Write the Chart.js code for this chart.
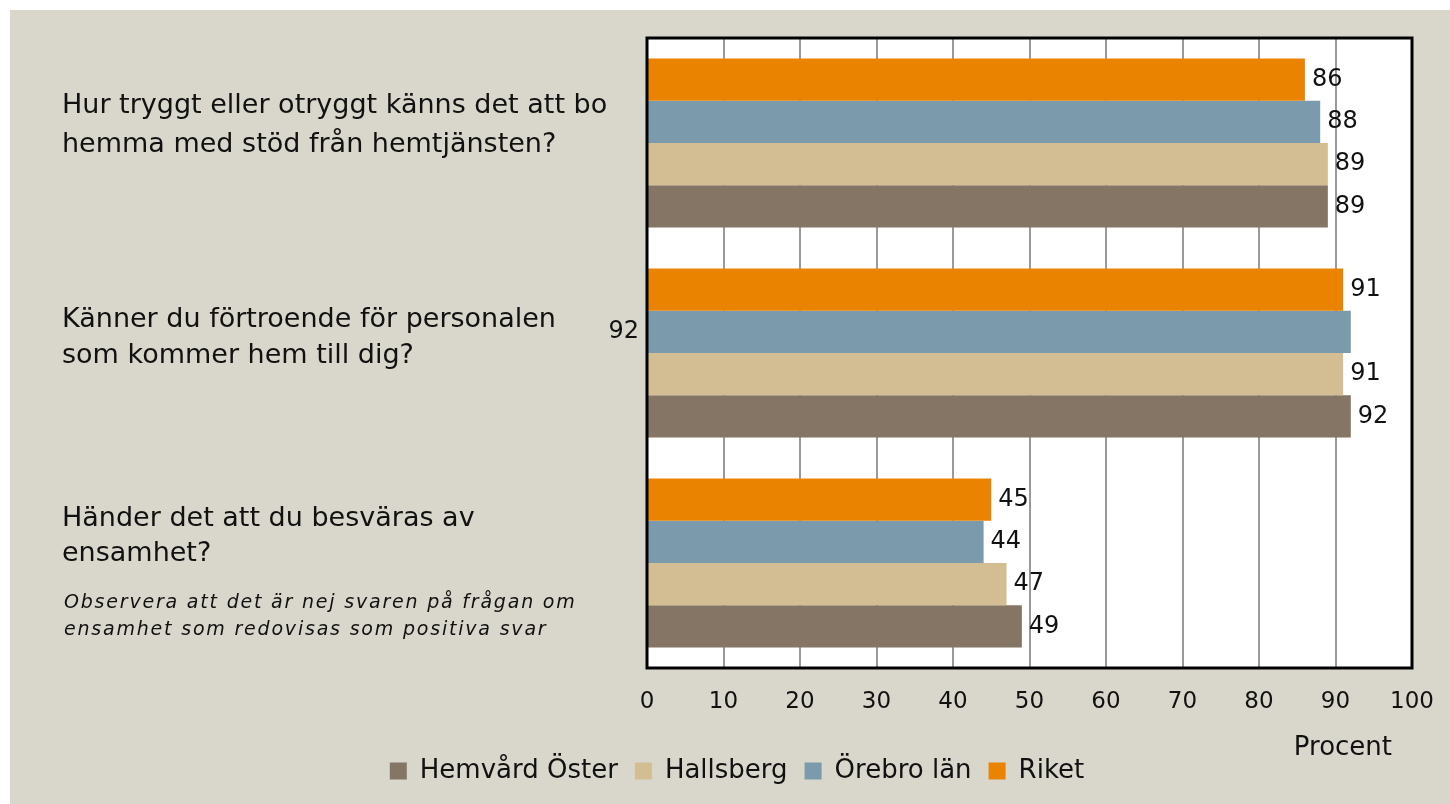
<!DOCTYPE html>
<html>
<head>
<meta charset="utf-8">
<script src="https://cdn.jsdelivr.net/npm/chart.js@4/dist/chart.umd.min.js"></script>
<style>
    html, body { margin: 0; padding: 0; background: #ffffff; }
    #wrap { width: 1450px; height: 804px; }
</style>
</head>
<body>
<div id="wrap"><canvas id="trygghetChart" width="1450" height="804"></canvas></div>
<script>
const categories = [
    ["Hur tryggt eller otryggt känns det att bo", "hemma med stöd från hemtjänsten?"],
    ["Känner du förtroende för personalen", "som kommer hem till dig?"],
    ["Händer det att du besväras av", "ensamhet?"]
];

const noteLines = [
    "Observera att det är nej svaren på frågan om",
    "ensamhet som redovisas som positiva svar"
];

const seriesNames = ["Riket", "Örebro län", "Hallsberg", "Hemvård Öster"];
const riket = [86, 91, 45];
const orebroLan = [88, 92, 44];
const hallsberg = [89, 91, 47];
const hemvardOster = [89, 92, 49];

const xTicks = [0, 10, 20, 30, 40, 50, 60, 70, 80, 90, 100];

const colors = ["#e98300", "#7b9aac", "#d3be94", "#857565"];
const FONT = "'DejaVu Sans', sans-serif";

// the label that sits left of the axis in the original
const leftLabel = { dataset: 1, index: 1 };

const canvas = document.getElementById("trygghetChart");

const backgroundPlugin = {
    id: "background",
    beforeDraw(chart) {
        const ctx = chart.ctx;
        const a = chart.chartArea;
        ctx.save();
        ctx.fillStyle = "#ffffff";
        ctx.fillRect(0, 0, chart.width, chart.height);
        ctx.fillStyle = "#d9d7cb";
        ctx.fillRect(10, 10, chart.width - 10, chart.height - 10);
        ctx.fillStyle = "#ffffff";
        ctx.fillRect(a.left, a.top, a.right - a.left, a.bottom - a.top);
        ctx.restore();
    },
    afterDraw(chart) {
        const ctx = chart.ctx;
        const a = chart.chartArea;
        const y = chart.scales.y;
        ctx.save();
        ctx.strokeStyle = "#000000";
        ctx.lineWidth = 3;
        ctx.strokeRect(a.left, a.top, a.right - a.left, a.bottom - a.top);

        // category labels
        ctx.fillStyle = "#111111";
        ctx.textAlign = "left";
        ctx.textBaseline = "middle";
        ctx.font = "27px " + FONT;
        const offsets = [[-37, 2], [-33, 3], [-44, -9]];
        categories.forEach((lines, i) => {
            const c = y.getPixelForValue(i);
            lines.forEach((t, j) => ctx.fillText(t, 62, c + offsets[i][j]));
        });
        ctx.font = "italic 19px " + FONT;
        ctx.letterSpacing = "1.8px";
        const c3 = y.getPixelForValue(2);
        ctx.fillText(noteLines[0], 64, c3 + 40);
        ctx.fillText(noteLines[1], 64, c3 + 67);
        ctx.letterSpacing = "0px";

        // axis unit
        ctx.font = "26px " + FONT;
        ctx.textAlign = "right";
        ctx.fillText("Procent", a.right - 20, a.bottom + 80);
        ctx.restore();
    }
};

const valueLabelPlugin = {
    id: "valueLabels",
    afterDatasetsDraw(chart) {
        const ctx = chart.ctx;
        ctx.save();
        ctx.fillStyle = "#111111";
        ctx.font = "24px " + FONT;
        ctx.textBaseline = "middle";
        chart.data.datasets.forEach((ds, di) => {
            chart.getDatasetMeta(di).data.forEach((bar, i) => {
                if (di === leftLabel.dataset && i === leftLabel.index) {
                    ctx.textAlign = "right";
                    ctx.fillText(ds.data[i], chart.chartArea.left - 8, bar.y);
                } else {
                    ctx.textAlign = "left";
                    ctx.fillText(ds.data[i], bar.x + 7, bar.y);
                }
            });
        });
        ctx.restore();
    }
};

new Chart(canvas, {
    type: "bar",

    data: {
        labels: categories.map((c) => c.join(" ")),

        datasets: [riket, orebroLan, hallsberg, hemvardOster].map((values, i) => ({
            label: seriesNames[i],
            data: values,
            backgroundColor: colors[i],
            borderWidth: 0,
            barPercentage: 1,
            categoryPercentage: 0.805,
        })),
    },

    options: {
        indexAxis: "y",
        responsive: false,
        animation: false,
        devicePixelRatio: 1,

        layout: {
            padding: { top: 38, right: 38, bottom: 10, left: 62 },
        },

        plugins: {
            legend: {
                position: "bottom",
                reverse: true,
                labels: {
                    boxWidth: 17,
                    boxHeight: 17,
                    padding: 17,
                    color: "#111111",
                    font: { family: FONT, size: 26 },
                },
            },
            tooltip: { enabled: false },
        },

        scales: {
            x: {
                min: 0,
                max: 100,
                afterBuildTicks: (scale) => {
                    scale.ticks = xTicks.map((v) => ({ value: v }));
                },
                afterFit: (scale) => {
                    scale.height = 73;
                    scale.paddingLeft = 0;
                    scale.paddingRight = 0;
                },
                grid: {
                    color: "#9a9a9a",
                    lineWidth: 2,
                    drawTicks: false,
                },
                border: { display: false },
                ticks: {
                    padding: 20,
                    color: "#111111",
                    font: { family: FONT, size: 23 },
                },
            },
            y: {
                afterFit: (scale) => {
                    scale.width = 585;
                },
                grid: { display: false },
                border: { display: false },
                ticks: { display: false },
            },
        },
    },

    plugins: [backgroundPlugin, valueLabelPlugin],
});
</script>
</body>
</html>
